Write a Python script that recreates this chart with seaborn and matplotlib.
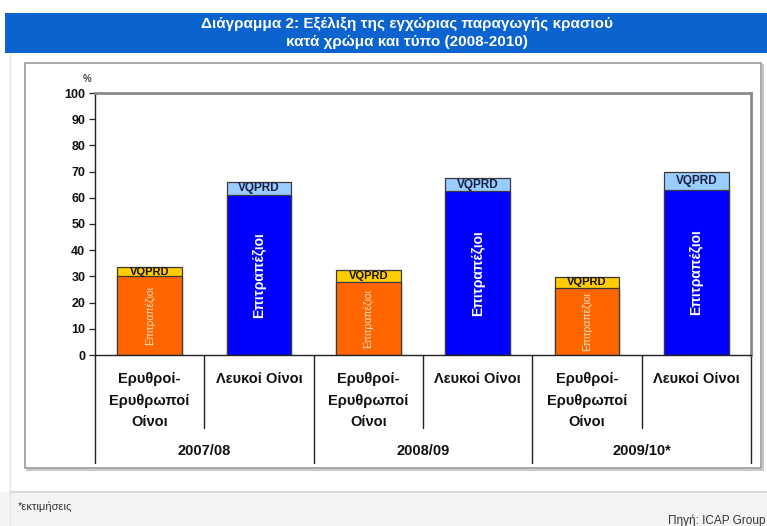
import numpy as np
import pandas as pd
import matplotlib
matplotlib.use("Agg")
import matplotlib.pyplot as plt
from matplotlib.patches import Rectangle
from matplotlib.lines import Line2D
import seaborn as sns

# ---- data -------------------------------------------------------------
seasons = ["2007/08", "2008/09", "2009/10*"]
wine_types = ["Ερυθροί-\nΕρυθρωποί\nΟίνοι", "Λευκοί Οίνοι"]
table_wine = [30.0, 61.0, 28.0, 62.5, 25.7, 63.0]   # Επιτραπέζιοι (%)
vqprd_wine = [3.6, 5.2, 4.4, 5.1, 4.1, 7.0]         # VQPRD (%)
y_ticks = list(range(0, 101, 10))

title_lines = ["Διάγραμμα 2: Εξέλιξη της εγχώριας παραγωγής κρασιού",
               "κατά χρώμα και τύπο (2008-2010)"]
note_text = "*εκτιμήσεις"
source_text = "Πηγή: ICAP Group"

# ---- frame ------------------------------------------------------------
sns.set_theme(style="white")
plt.rcParams["font.family"] = ["Liberation Sans", "DejaVu Sans"]

W, H = 767, 526
fig = plt.figure(figsize=(W / 100, H / 100), dpi=100)
fig.patch.set_facecolor("white")


def fx(px):
    return px / W


def fy(py):
    return 1 - py / H


# footer band
fig.patches.append(Rectangle((fx(0), fy(526)), 1, fy(492) - fy(526),
                             transform=fig.transFigure, facecolor="#f4f4f4",
                             edgecolor="none", zorder=0))
fig.lines.append(Line2D([fx(10), fx(767)], [fy(492), fy(492)],
                        transform=fig.transFigure, color="#d2d2d2", lw=1.2))
fig.lines.append(Line2D([fx(10), fx(10)], [fy(53), fy(526)],
                        transform=fig.transFigure, color="#e6e6e6", lw=1))

# title band
fig.patches.append(Rectangle((fx(5), fy(53)), fx(767) - fx(5), fy(13) - fy(53),
                             transform=fig.transFigure, facecolor="#0b63d0",
                             edgecolor="none", zorder=1))
fig.text(fx(407), fy(24), title_lines[0], ha="center", va="center",
         color="white", fontsize=11, fontweight="bold")
fig.text(fx(407), fy(42), title_lines[1], ha="center", va="center",
         color="white", fontsize=11, fontweight="bold")

# chart frame with soft shadow
fig.lines.append(Line2D([fx(27), fx(763), fx(763)], [fy(470), fy(470), fy(65)],
                        transform=fig.transFigure, color="#c8c8c8", lw=1.5))
fig.patches.append(Rectangle((fx(25), fy(468)), fx(761) - fx(25), fy(63) - fy(468),
                             transform=fig.transFigure, facecolor="none",
                             edgecolor="#9a9a9a", lw=1.2, zorder=2))

# ---- plot area --------------------------------------------------------
ax_left, ax_right, ax_top, ax_bottom = 95, 751, 93, 355
ax = fig.add_axes([fx(ax_left), fy(ax_bottom),
                   fx(ax_right) - fx(ax_left), fy(ax_top) - fy(ax_bottom)])

slots = [f"{s} | {t}" for s in seasons for t in wine_types]
df = pd.DataFrame({
    "slot": slots,
    "type": wine_types * len(seasons),
    "table": table_wine,
    "vqprd": vqprd_wine,
})
df["total"] = df["table"] + df["vqprd"]

top_colors = {wine_types[0]: "#ffcc00", wine_types[1]: "#99ccff"}
base_colors = {wine_types[0]: "#ff6600", wine_types[1]: "#0000ff"}

common = dict(x="slot", hue="type", order=slots, dodge=False, width=0.59,
              edgecolor="#3a3a3a", linewidth=0.9, errorbar=None,
              legend=False, ax=ax, saturation=1)
sns.barplot(data=df, y="total", palette=top_colors, **common)
sns.barplot(data=df, y="table", palette=base_colors, **common)

for i, row in df.iterrows():
    red = row["type"] == wine_types[0]
    ax.text(i, row["table"] + row["vqprd"] / 2, "VQPRD", ha="center",
            va="center", fontsize=8 if red else 8.5, fontweight="bold",
            color="#111111" if red else "#1a2040", zorder=5)
    if red:
        ax.text(i, row["table"] / 2, "Επιτραπέζιοι", rotation=90,
                ha="center", va="center", fontsize=7.5, color="#ffe2c4",
                zorder=5)
    else:
        ax.text(i, row["table"] / 2, "Επιτραπέζιοι", rotation=90,
                ha="center", va="center", fontsize=10, fontweight="bold",
                color="white", zorder=5)

ax.set_xlim(-0.5, len(slots) - 0.5)
ax.set_ylim(0, 100)
ax.set_yticks(y_ticks)
ax.set_yticklabels([str(v) for v in y_ticks], fontsize=9,
                   fontweight="bold", color="#111111")
ax.tick_params(axis="y", direction="out", length=4, width=0.9,
               color="#222222", pad=3, left=True)
ax.set_xticks([])
ax.set_xlabel("")
ax.set_ylabel("")
ax.set_facecolor("white")

for side in ("top", "right"):
    ax.spines[side].set_color("#8a8a8a")
    ax.spines[side].set_linewidth(2)
for side in ("left", "bottom"):
    ax.spines[side].set_color("#222222")
    ax.spines[side].set_linewidth(1)

ax.text(-0.012, 1.055, "%", transform=ax.transAxes, ha="center", va="center",
        fontsize=7, fontweight="bold", color="#444444")

# ---- category axis below the plot --------------------------------------
ax_h = ax_bottom - ax_top


def ay(py):
    return (ax_bottom - py) / ax_h


xt = ax.get_xaxis_transform()
n = len(slots)
for k in range(n + 1):
    xb = k - 0.5
    long_line = k % 2 == 0
    ax.plot([xb, xb], [0, ay(463 if long_line else 428)], transform=xt,
            color="#222222", lw=1, clip_on=False)

for i, row in df.iterrows():
    ax.text(i, ay(372), row["type"], transform=xt, ha="center", va="top",
            fontsize=10.5, fontweight="bold", color="#111111",
            linespacing=1.7)

for j, s in enumerate(seasons):
    ax.text(2 * j + 0.5, ay(451), s, transform=xt, ha="center", va="center",
            fontsize=10.5, fontweight="bold", color="#111111")

# ---- footer -------------------------------------------------------------
fig.text(fx(18), fy(507), note_text, ha="left", va="center", fontsize=8,
         color="#333333")
fig.text(fx(766), fy(521), source_text, ha="right", va="center", fontsize=8.5,
         color="#333333")

fig.savefig("out.png", dpi=100)
